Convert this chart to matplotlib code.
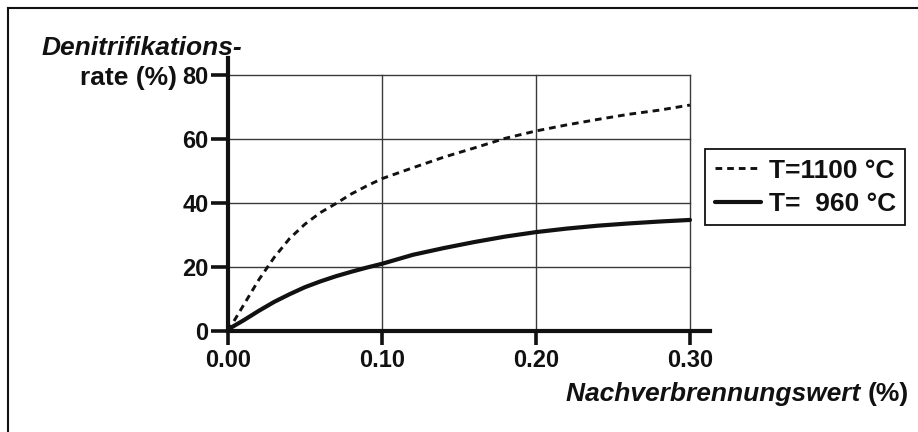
import matplotlib
matplotlib.use("Agg")
import matplotlib.pyplot as plt
from matplotlib.lines import Line2D

# Nachverbrennungswert (%) at which the rates are given
x_vals = [0.00, 0.01, 0.02, 0.03, 0.04, 0.05, 0.06, 0.07, 0.08, 0.09, 0.10,
          0.12, 0.14, 0.16, 0.18, 0.20, 0.22, 0.24, 0.26, 0.28, 0.30]

# Denitrifikationsrate (%) at T = 1100 °C
rate_1100 = [0.0, 8.0, 16.0, 23.0, 28.9, 33.4, 37.0, 39.8, 42.8, 45.3, 47.6,
             51.0, 54.3, 57.2, 60.2, 62.5, 64.4, 66.1, 67.7, 69.0, 70.6]

# Denitrifikationsrate (%) at T = 960 °C
rate_960 = [0.5, 3.3, 6.3, 9.1, 11.5, 13.7, 15.5, 17.1, 18.5, 19.8, 21.0,
            23.8, 25.9, 27.8, 29.5, 30.9, 32.0, 32.9, 33.6, 34.2, 34.7]

x_ticks = [0.0, 0.1, 0.2, 0.3]
x_ticklabels = ["0.00", "0.10", "0.20", "0.30"]
y_ticks = [0, 20, 40, 60, 80]
labels = ["T=1100 °C", "T=  960 °C"]

plt.rcParams["font.family"] = ["Liberation Sans", "DejaVu Sans"]
plt.rcParams["font.weight"] = "bold"

INK = "#111111"
W, H = 918, 432
fig = plt.figure(figsize=(W / 100, H / 100), dpi=100)
ax = fig.add_axes([228 / W, 1 - 331 / H, (710 - 228) / W, (331 - 58) / H])
ax.set_xlim(0, 0.313)
ax.set_ylim(0, 85.3)

# grid confined to the data range
grid_kw = dict(color="#3a3a3a", lw=1.0, zorder=1)
for yv in y_ticks[1:]:
    ax.plot([0, x_ticks[-1]], [yv, yv], **grid_kw)
for xv in x_ticks[1:]:
    ax.plot([xv, xv], [0, y_ticks[-1]], **grid_kw)

l1, = ax.plot(x_vals, rate_1100, color=INK, lw=2.1,
              dashes=(2.3, 1.7), zorder=3)
l2, = ax.plot(x_vals, rate_960, color=INK, lw=3.0,
              solid_capstyle="round", zorder=3)

for side in ("top", "right"):
    ax.spines[side].set_visible(False)
for side in ("left", "bottom"):
    ax.spines[side].set_linewidth(3.0)
    ax.spines[side].set_color(INK)

ax.set_xticks(x_ticks)
ax.set_xticklabels(x_ticklabels)
ax.set_yticks(y_ticks)
ax.tick_params(axis="x", direction="out", length=10, width=2.6,
               color=INK, pad=3.0, labelsize=17)
ax.tick_params(axis="y", direction="out", length=12, width=2.6,
               color=INK, pad=2.0, labelsize=17)
for lab in ax.get_xticklabels() + ax.get_yticklabels():
    lab.set_fontweight("bold")
    lab.set_color(INK)

# axis titles: italic name followed by an upright unit
t_pct = fig.text(909 / W, 1 - 401 / H, "(%)", ha="right", va="baseline",
                 fontsize=19, fontweight="bold", color=INK)
ax.annotate("Nachverbrennungswert ", xy=(0, 0), xycoords=t_pct,
            ha="right", va="bottom", fontsize=19, fontweight="bold",
            fontstyle="italic", color=INK)

fig.text(42 / W, 1 - 55 / H, "Denitrifikations-", ha="left", va="baseline",
         fontsize=19, fontweight="bold", fontstyle="italic", color=INK)
fig.text(177 / W, 1 - 85 / H, "rate (%)", ha="right", va="baseline",
         fontsize=19, fontweight="bold", color=INK)

leg = fig.legend([l1, l2], labels, loc="upper left",
                 bbox_to_anchor=(705 / W, 1 - 149 / H), borderaxespad=0,
                 fancybox=False, framealpha=1, edgecolor=INK,
                 handlelength=1.75, handletextpad=0.3,
                 borderpad=0.36, labelspacing=0.35,
                 prop=dict(weight="bold", size=19))
leg.get_frame().set_linewidth(1.3)
for t in leg.get_texts():
    t.set_color(INK)

# page frame (top and left edges)
fig.add_artist(Line2D([8 / W, 8 / W], [0, 1 - 8 / H], transform=fig.transFigure,
                      color=INK, lw=1.5))
fig.add_artist(Line2D([8 / W, 1], [1 - 8 / H, 1 - 8 / H], transform=fig.transFigure,
                      color=INK, lw=1.5))

fig.savefig("out.png", dpi=100)
